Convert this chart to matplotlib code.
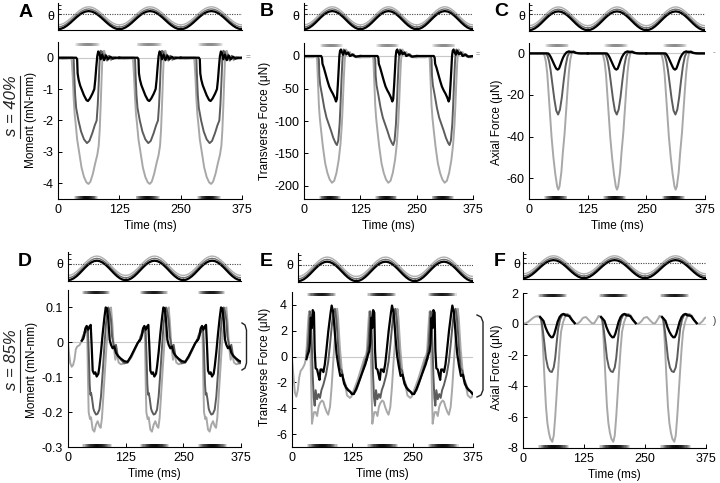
import numpy as np
import matplotlib
matplotlib.use("Agg")
import matplotlib.pyplot as plt
from matplotlib.lines import Line2D

plt.rcParams['font.family'] = ['Liberation Sans', 'DejaVu Sans']
plt.rcParams['axes.unicode_minus'] = False

W, H = 720, 483
OFFSETS = [0.0, 125.0, 250.0]     # three identical stroke cycles

# ---- theta trace (one cycle, same in every panel) ----
theta_t = [0, 6.25, 12.5, 18.75, 25, 31.25, 37.5, 43.75, 50, 56.25, 62.5,
           68.75, 75, 81.25, 87.5, 93.75, 100, 106.25, 112.5, 118.75, 125]
theta_black = [0.03, 0.046, 0.094, 0.168, 0.261, 0.365, 0.469, 0.562, 0.636, 0.684, 0.70,
               0.684, 0.636, 0.562, 0.469, 0.365, 0.261, 0.168, 0.094, 0.046, 0.03]
theta_dark = [0.11, 0.126, 0.174, 0.248, 0.341, 0.445, 0.549, 0.642, 0.716, 0.764, 0.78,
              0.764, 0.716, 0.642, 0.549, 0.445, 0.341, 0.248, 0.174, 0.126, 0.11]
theta_light = [0.19, 0.206, 0.254, 0.328, 0.421, 0.525, 0.629, 0.722, 0.796, 0.844, 0.86,
               0.844, 0.796, 0.722, 0.629, 0.525, 0.421, 0.328, 0.254, 0.206, 0.19]
theta_ref = 0.59

# ---- s = 40% (one cycle each, (time ms, value)) ----
A_light = [(0, -0.03), (10, -0.04), (20, -0.03), (26, -0.02), (28, -0.08), (30, -0.6), (32, -1.3),
           (34, -1.8), (36, -2.1), (39, -2.6), (43, -3.0), (48, -3.5), (53, -3.8), (58, -3.97),
           (62, -4.02), (66, -3.95), (71, -3.7), (76, -3.35), (80, -3.1), (83, -2.8), (85, -2.3),
           (87, -1.5), (89, -0.6), (90.5, 0.0), (92, 0.2), (94, 0.22), (97, 0.05), (100, -0.1),
           (104, 0.05), (108, -0.08), (112, 0.03), (117, -0.03), (125, -0.03)]
A_dark = [(0, 0.0), (30, 0.0), (32, -0.05), (33, -0.5), (35, -1.2), (37, -1.6), (41.7, -2.0),
          (47, -2.35), (53, -2.6), (59, -2.72), (64, -2.65), (70, -2.4), (75, -2.15), (78.8, -2.0),
          (81, -1.5), (83, -0.8), (85, 0.0), (87, 0.22), (90, 0.18), (93, -0.05), (96, 0.1),
          (100, -0.08), (104, 0.06), (109, -0.05), (114, 0.02), (120, -0.01), (125, 0.0)]
A_black = [(0, 0.0), (37, 0.0), (39, -0.05), (40, -0.5), (42, -0.7), (45, -0.88), (48, -1.0),
           (53, -1.2), (58, -1.35), (61, -1.38), (65, -1.3), (70, -1.15), (74, -1.0), (76, -0.7),
           (78, -0.3), (80, 0.05), (82, 0.2), (84, 0.15), (87, -0.05), (90, 0.1), (94, -0.08),
           (98, 0.07), (102, -0.05), (107, 0.03), (112, -0.03), (118, 0.0), (125, 0.0)]

B_light = [(0, -2), (20, -2), (27, 0), (29, -5), (31, -40), (33, -75), (35, -95), (38, -115),
           (42, -140), (47, -165), (52, -180), (57, -190), (62, -195), (67, -192), (72, -180),
           (77, -160), (81, -135), (84, -105), (86, -75), (88, -40), (90, -10), (91.5, 3), (93, 10),
           (95, 8), (98, 3), (102, 6), (106, 0), (110, 3), (115, -2), (125, -2)]
B_dark = [(0, 0), (31, 0), (33, -5), (34, -30), (36, -45), (40, -60), (45, -80), (50, -95),
          (55, -105), (60, -115), (65, -126), (70, -134), (73, -137), (76, -130), (79, -105),
          (81, -75), (83, -40), (85, -10), (86.5, 5), (88, 10), (91, 7), (94, 2), (98, 6),
          (102, 0), (107, 3), (112, -1), (125, 0)]
B_black = [(0, 0), (38, 0), (40, -3), (41, -12), (44, -18), (48, -28), (52, -38), (56, -47),
           (60, -53), (64, -58), (68, -64), (71, -70), (73, -66), (75, -45), (77, -20), (78.5, 0),
           (80, 8), (82, 10), (84, 6), (87, 2), (90, 8), (94, 3), (98, 5), (102, 0), (108, 2),
           (115, -1), (125, 0)]

C_light = [(0, 0), (30, 0), (33, -1), (36, -4), (39, -10), (42, -20), (45, -30), (48, -40),
           (52, -50), (56, -58), (60, -64), (62.5, -65.5), (65, -64), (69, -57), (72, -48),
           (76, -38), (79, -28), (82, -18), (85, -9), (88, -3), (91, 0), (94, 1), (100, 0.5),
           (106, 0), (125, 0)]
C_dark = [(0, 0), (37, 0), (40, -1.5), (43, -4), (46, -8), (50, -15), (54, -22), (58, -27.5),
          (62, -29.4), (66, -27), (70, -21), (74, -13), (78, -6), (82, -1.5), (86, 0.5), (90, 1),
          (95, 0.5), (105, 0), (125, 0)]
C_black = [(0, 0), (41, 0), (44, -0.8), (47, -2), (51, -4), (55, -6), (58, -7.3), (61, -7.8),
           (64, -7.3), (67, -5.5), (70, -3.5), (73, -1.8), (76, -0.6), (80, 0.5), (85, 1),
           (90, 0.5), (95, 0.8), (100, 0.2), (110, 0), (125, 0)]

# ---- s = 85% (cycle runs 30..155 ms, plus a start-up piece for the first cycle) ----
D_light_start = [(0, 0.0), (2, -0.03), (5, -0.06), (8, -0.07), (11, -0.065), (14, -0.05),
                 (17, -0.02), (20, -0.012), (25, -0.008), (30, 0.005)]
D_light = [(30, 0.005), (32, 0.017), (36, 0.026), (39, 0.03), (41, 0.045), (42, 0.0), (43.5, -0.12),
           (44.8, -0.2), (47.7, -0.22), (49.9, -0.215), (53.5, -0.25), (57, -0.256), (60.7, -0.236),
           (64.3, -0.226), (68, -0.24), (70.8, -0.245), (73.6, -0.217), (76.6, -0.155),
           (80.2, -0.079), (83.9, -0.003), (87.5, 0.054), (91.1, 0.092), (93.2, 0.1), (96.1, 0.054),
           (99, -0.012), (102.6, -0.05), (105.5, -0.03), (109.8, -0.058), (114.9, -0.063),
           (122, -0.06), (129, -0.058), (136.5, -0.045), (143.7, -0.025), (151, -0.003), (155, 0.005)]
D_dark = [(30, 0.005), (33.5, 0.02), (37, 0.035), (39, 0.03), (41, 0.045), (43, 0.04), (45, -0.03),
          (47, -0.12), (48.5, -0.15), (50, -0.145), (52, -0.16), (55, -0.19), (57, -0.198),
          (60.7, -0.207), (64, -0.205), (68, -0.193), (71.5, -0.155), (75.1, -0.088),
          (78.8, -0.012), (82.4, 0.054), (86, 0.092), (87.5, 0.1), (90.4, 0.085), (93.2, 0.064),
          (95.5, 0.017), (100.4, -0.017), (104, -0.007), (107.5, -0.036), (114.9, -0.05),
          (122, -0.06), (129, -0.058), (136.5, -0.042), (143.7, -0.022), (151, -0.002), (155, 0.005)]
D_black = [(30, 0.005), (33, 0.01), (35.4, 0.021), (37.6, 0.04), (40.5, 0.047), (43.4, 0.036),
           (46.3, 0.045), (49.2, 0.05), (51.3, -0.01), (53.5, -0.081), (56.4, -0.09),
           (59.3, -0.086), (62.2, -0.098), (65.8, -0.09), (68, -0.07), (71.5, -0.028),
           (75.1, 0.024), (78.8, 0.07), (81.7, 0.1), (84.6, 0.097), (87.5, 0.064), (90.4, 0.007),
           (93.2, -0.007), (96.8, -0.017), (100.4, -0.012), (104, -0.03), (109, -0.04),
           (114.9, -0.047), (122, -0.054), (129, -0.056), (136.5, -0.04), (143.7, -0.021),
           (151, -0.002), (155, 0.005)]

E_light_start = [(0, -0.2), (3, -1.5), (6, -2.8), (9, -3.1), (12, -2.6), (15, -1.6), (18, -1.1),
                 (22, -0.9), (26, -0.6), (28, -0.3), (30, 0.4)]
E_light = [(30, 0.4), (32, 1.8), (34, 3.0), (35.5, 3.5), (37, 2.5), (39, -1.0), (41.4, -5.2),
           (43, -4.8), (45.6, -4.3), (49, -4.3), (52, -4.6), (55, -3.9), (58, -3.6), (62, -3.4),
           (65, -3.5), (68, -3.9), (72, -4.3), (75, -4.5), (78.7, -3.9), (82, -2.4), (85.6, -0.3),
           (89, 1.5), (92, 3.0), (93.5, 3.7), (95.5, 3.0), (99.4, 0.6), (103, -0.9), (106.5, -1.8),
           (110, -2.2), (114, -3.0), (120, -3.2), (123, -3.1), (130, -2.4), (136, -1.8),
           (141, -1.2), (146, -0.6), (150, -0.1), (153, 0.1), (155, 0.4)]
E_dark = [(30, 0.0), (33, 0.8), (35, 2.0), (37, 3.5), (39, 3.0), (41, 1.0), (43, -1.5), (45, -3.2),
          (47, -3.8), (49, -2.6), (52, -3.3), (55, -2.9), (58, -3.2), (61, -2.6), (64.8, -2.2),
          (70.4, -1.4), (75, -0.4), (78.7, 0.9), (82, 2.2), (85.6, 3.5), (89, 3.7), (92.5, 2.7),
          (96, 0.6), (99.4, -0.9), (103, -1.1), (106.3, -1.7), (113, -2.4), (120, -2.7),
          (127, -2.9), (133, -2.6), (138, -2.1), (143, -1.5), (148, -0.8), (152, -0.3), (155, 0.0)]
E_black = [(30, -0.2), (33, 0.2), (35, 0.4), (37, 1.0), (39, 3.0), (41, 2.2), (43, 3.6),
           (45.5, 3.4), (47, 0.5), (49, -0.9), (52, -1.0), (55, -1.5), (57, -1.8), (59, -1.0),
           (62, -1.0), (65, -1.2), (68, -0.6), (70.4, 0.2), (75.3, 2.0), (80, 3.4), (82.2, 3.95),
           (85.6, 3.4), (89, 1.7), (92.5, 0.15), (96, -0.7), (100, -1.5), (104, -1.4), (108, -2.1),
           (112, -2.4), (116, -2.6), (120, -2.7), (124, -2.9), (128, -2.9), (133, -2.5),
           (138, -2.0), (143, -1.5), (148, -1.0), (152, -0.6), (155, -0.2)]

F_light_start = [(0, 0.0), (5, 0.05), (10, 0.12), (15, 0.25), (20, 0.38), (25, 0.48), (30, 0.5)]
F_light = [(30, 0.5), (33, 0.5), (35, 0.45), (37, 0.3), (39, -0.3), (41, -1.5), (44, -3.5),
           (47, -5.3), (50, -6.4), (53, -7.0), (56, -7.4), (60, -7.6), (63, -7.2), (66, -6.0),
           (69, -4.5), (72, -3.0), (75, -1.6), (78, -0.5), (82, 0.1), (86, 0.45), (91, 0.65),
           (96, 0.55), (101, 0.25), (106, 0.05), (111, 0.0), (117, 0.15), (123, 0.4), (129, 0.45),
           (135, 0.25), (141, 0.05), (146, 0.05), (151, 0.3), (155, 0.5)]
F_dark = [(35, 0.45), (38, 0.2), (41, -0.5), (44, -1.3), (47, -2.2), (51, -2.8), (55, -3.05),
          (59, -3.1), (63, -2.8), (66, -2.2), (69, -1.2), (72, -0.3), (76, 0.3), (80, 0.56),
          (85, 0.65), (90, 0.6), (95, 0.5), (100, 0.28), (106, 0.05)]
F_black = [(35, 0.45), (38, 0.35), (42, 0.2), (46, -0.2), (50, -0.5), (54, -0.72), (58, -0.86),
           (61, -0.85), (64, -0.65), (67.6, -0.25), (71, 0.15), (75, 0.45), (79, 0.6), (83, 0.65),
           (87, 0.55), (91, 0.55), (95, 0.5), (100, 0.27), (106, 0.05)]

# ---- activation bars (onset, offset in ms) ----
bars40_top = [(35, 86), (160, 211), (285, 336)]
bars40_bot = [(33, 82), (158, 207), (283, 332)]
bars85_top = [(31, 91), (156, 216), (281, 341)]
bars85_bot = [(31, 95), (156, 220), (281, 345)]

LIGHT, DARK, BLACK = '#a8a8a8', '#5c5c5c', '#000000'

fig = plt.figure(figsize=(W / 100, H / 100), dpi=100)


def px_box(x0, y0, x1, y1):
    return [x0 / W, 1 - y1 / H, (x1 - x0) / W, (y1 - y0) / H]


def fig_text(x, y, s, **kw):
    fig.text(x / W, 1 - y / H, s, ha='center', va='center', **kw)


def px_line(xs, ys, **kw):
    fig.add_artist(Line2D([x / W for x in xs], [1 - y / H for y in ys],
                          transform=fig.transFigure, **kw))


def grad_bar(ax, t0, t1, y0, y1, color, peak, n=26):
    edges = np.linspace(t0, t1, n + 1)
    frac = (edges[:-1] + edges[1:]) / 2
    frac = (frac - t0) / (t1 - t0)
    alphas = peak * np.sin(np.pi * frac) ** 0.7
    for a, b, al in zip(edges[:-1], edges[1:], alphas):
        ax.axvspan(a, b, ymin=y0, ymax=y1, color=color, alpha=al, lw=0, clip_on=False)


panels = [
    dict(letter='A', main=(58, 42, 242, 199), theta=(58, 3, 242, 30), let=(25.5, 12.5), th=(50.5, 17),
         ylim=(-4.5, 0.5), yticks=[0, -1, -2, -3, -4], ylabel='Moment (mN-mm)', yl=(31, 120),
         traces=[A_light, A_dark, A_black], start=None, bars=(bars40_top, bars40_bot), topc='#808080'),
    dict(letter='B', main=(304, 43, 473, 199), theta=(304, 3, 473, 30), let=(266.5, 11), th=(296, 17),
         ylim=(-220, 20), yticks=[0, -50, -100, -150, -200], ylabel='Transverse Force (μN)', yl=(265, 121),
         traces=[B_light, B_dark, B_black], start=None, bars=(bars40_top, bars40_bot), topc='#808080'),
    dict(letter='C', main=(529, 43, 705, 199), theta=(529, 3, 705, 31), let=(501.5, 11), th=(522, 17),
         ylim=(-70, 5), yticks=[0, -20, -40, -60], ylabel='Axial Force (μN)', yl=(497, 122),
         traces=[C_light, C_dark, C_black], start=None, bars=(bars40_top, bars40_bot), topc='#808080'),
    dict(letter='D', main=(68, 290, 241, 447), theta=(68, 252, 241, 281), let=(24.5, 261.5), th=(60, 265),
         ylim=(-0.3, 0.15), yticks=[0.1, 0, -0.1, -0.2, -0.3], ylabel='Moment (mN-mm)', yl=(32, 370),
         traces=[D_light, D_dark, D_black], start=D_light_start, bars=(bars85_top, bars85_bot), topc='#000000'),
    dict(letter='E', main=(292, 292, 473, 447), theta=(298, 253, 473, 282), let=(266.5, 261.5), th=(290, 266),
         ylim=(-7, 5), yticks=[4, 2, 0, -2, -4, -6], ylabel='Transverse Force (μN)', yl=(265, 367),
         traces=[E_light, E_dark, E_black], start=E_light_start, bars=(bars85_top, bars85_bot), topc='#000000'),
    dict(letter='F', main=(523, 293, 706, 448), theta=(523, 252, 706, 279), let=(500, 261.5), th=(516.5, 265),
         ylim=(-8, 2), yticks=[2, 0, -2, -4, -6, -8], ylabel='Axial Force (μN)', yl=(497, 367),
         traces=[F_light, F_dark, F_black], start=F_light_start, bars=(bars85_top, bars85_bot), topc='#000000'),
]

for p in panels:
    # theta strip
    axt = fig.add_axes(px_box(*p['theta']))
    for off in OFFSETS:
        tt = np.asarray(theta_t) + off
        axt.plot(tt, theta_light, color='#b0b0b0', lw=1.0)
        axt.plot(tt, theta_dark, color='#707070', lw=1.0)
        axt.plot(tt, theta_black, color=BLACK, lw=1.6)
    axt.axhline(theta_ref, color='#444444', lw=0.8, ls=(0, (1, 1.2)))
    axt.set_xlim(0, 375)
    axt.set_ylim(0, 1)
    axt.set_xticks([125, 250])
    axt.set_yticks([0.59, 0.76, 0.93])
    axt.tick_params(direction='in', length=2, width=0.6, labelbottom=False, labelleft=False)
    for s in ('top', 'right'):
        axt.spines[s].set_visible(False)
    for s in ('left', 'bottom'):
        axt.spines[s].set_linewidth(0.8)

    # main force / moment axes
    ax = fig.add_axes(px_box(*p['main']))
    ax.axhline(0, color='#c8c8c8', lw=0.8, zorder=0)
    styles = [(LIGHT, 1.4), (DARK, 1.4), (BLACK, 1.6)]
    if p['start'] is not None:
        st = np.array(p['start']).T
        ax.plot(st[0], st[1], color=LIGHT, lw=1.4)
    for trace, (c, lw) in zip(p['traces'], styles):
        arr = np.array(trace).T
        for off in OFFSETS:
            ax.plot(arr[0] + off, arr[1], color=c, lw=lw, solid_joinstyle='round')
    top_bars, bot_bars = p['bars']
    for t0, t1 in top_bars:
        grad_bar(ax, t0, t1, 0.975, 0.995, p['topc'], 0.9)
    for t0, t1 in bot_bars:
        grad_bar(ax, t0, t1, 0.003, 0.022, BLACK, 0.95)
    ax.set_xlim(0, 375)
    ax.set_ylim(*p['ylim'])
    ax.set_xticks([0, 125, 250, 375])
    ax.set_yticks(p['yticks'])
    ax.set_yticklabels([f'{v:g}' for v in p['yticks']])
    ax.tick_params(direction='in', length=3, width=0.7, labelsize=9, pad=3.5)
    for s in ('top', 'right'):
        ax.spines[s].set_visible(False)
    for s in ('left', 'bottom'):
        ax.spines[s].set_linewidth(0.8)

    x0, y0, x1, y1 = p['main']
    fig_text((x0 + x1) / 2, y1 + 27, 'Time (ms)', fontsize=8.5)
    fig_text(p['yl'][0], p['yl'][1], p['ylabel'], fontsize=8.5, rotation=90)
    fig_text(p['let'][0], p['let'][1], p['letter'], fontsize=14, fontweight='bold')
    fig_text(p['th'][0], p['th'][1], 'θ', fontsize=9)

# row labels
fig_text(12, 106, 's = 40%', fontsize=12, style='italic', rotation=90, color='#222222')
px_line([19.5, 19.5], [76, 138], color='#222222', lw=0.8)
fig_text(12, 360, 's = 85%', fontsize=12, style='italic', rotation=90, color='#222222')
px_line([19.5, 19.5], [330, 392], color='#222222', lw=0.8)

# small range markers at the right of panels
fig_text(248, 58, '=', fontsize=6, color='#777777')
fig_text(478, 55, '=', fontsize=5, color='#777777')
fig_text(714, 53, '-', fontsize=6, color='#777777')
px_line([242, 245, 246.5, 246.5, 245, 242], [323, 325, 330, 363, 368, 370], color='#222222', lw=1.0)
px_line([477, 481, 483, 483, 481, 477], [315, 317, 322, 390, 395, 397], color='#222222', lw=1.0)
fig_text(715, 321, ')', fontsize=7, color='#333333')

fig.savefig('out.png', dpi=100)
